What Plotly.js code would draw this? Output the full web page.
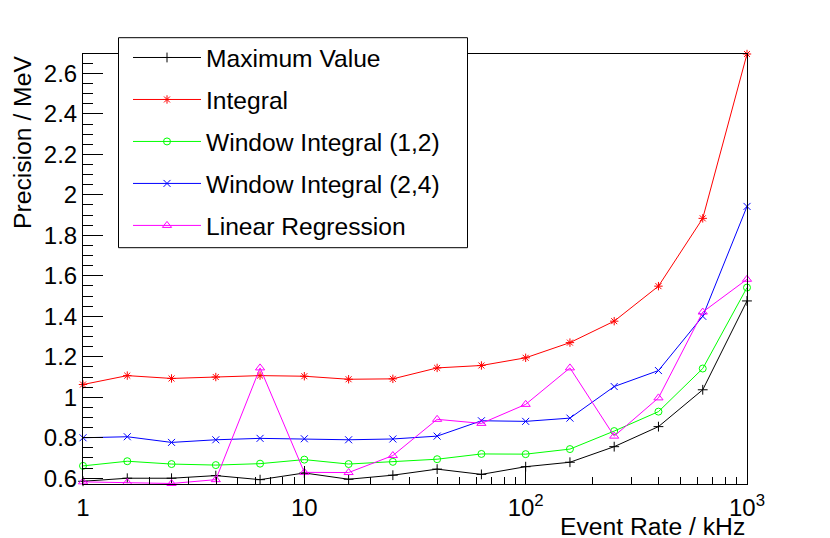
<!DOCTYPE html>
<html>
<head>
<meta charset="utf-8">
<script src="https://cdn.plot.ly/plotly-3.0.1.min.js"></script>
<style>html,body{margin:0;padding:0;background:#fff;}#chart{width:830px;height:538px;}</style>
</head>
<body>
<div id="chart"></div>
<script>
var eventRate = [1, 1.585, 2.512, 3.981, 6.310, 10, 15.85, 25.12, 39.81, 63.10, 100, 158.5, 251.2, 398.1, 631.0, 1000];
var maximumValue = [0.585, 0.600, 0.600, 0.613, 0.593, 0.626, 0.595, 0.615, 0.645, 0.619, 0.657, 0.679, 0.756, 0.855, 1.037, 1.476];
var integral = [1.063, 1.107, 1.093, 1.100, 1.107, 1.104, 1.089, 1.091, 1.145, 1.157, 1.195, 1.270, 1.376, 1.549, 1.884, 2.696];
var windowIntegral12 = [0.661, 0.684, 0.670, 0.665, 0.672, 0.692, 0.670, 0.681, 0.694, 0.720, 0.719, 0.744, 0.833, 0.929, 1.142, 1.542];
var windowIntegral24 = [0.800, 0.805, 0.777, 0.790, 0.797, 0.795, 0.790, 0.794, 0.808, 0.884, 0.881, 0.897, 1.053, 1.132, 1.400, 1.943];
var linearRegression = [0.582, 0.579, 0.574, 0.593, 1.145, 0.629, 0.628, 0.712, 0.891, 0.871, 0.965, 1.145, 0.808, 0.997, 1.421, 1.583];
var seriesNames = ["Maximum Value", "Integral", "Window Integral (1,2)", "Window Integral (2,4)", "Linear Regression"];
var xTickVals = [1, 10, 100, 1000];
var xTickText = ["1", "10", "10<sup>2</sup>", "10<sup>3</sup>"];

var styles = [
  {color: "#000000", symbol: "cross-thin-open", size: 7},
  {color: "#ff0000", symbol: "asterisk-open", size: 7},
  {color: "#00ff00", symbol: "circle-open", size: 7},
  {color: "#0000ff", symbol: "x-thin-open", size: 7},
  {color: "#ff00ff", symbol: "triangle-up-open", size: 8}
];
var allY = [maximumValue, integral, windowIntegral12, windowIntegral24, linearRegression];

var traces = allY.map(function(ys, i) {
  return {
    x: eventRate, y: ys, name: seriesNames[i], type: "scatter", mode: "lines+markers",
    legendgroup: "g" + i, cliponaxis: false,
    line: {color: styles[i].color, width: 1},
    marker: {color: styles[i].color, symbol: styles[i].symbol, size: styles[i].size, line: {color: styles[i].color, width: 1}}
  };
});

var minorX = [];
for (var k = 0; k < 3; k++) { for (var d = 2; d <= 9; d++) { minorX.push(d * Math.pow(10, k)); } }

var font = "Liberation Sans, Arial, Helvetica, sans-serif";
var W = 664, H = 430;
function px(xp) { return (xp - 83) / W; }
function py(yp) { return (484 - yp) / H; }

var layout = {
  width: 830, height: 538,
  margin: {l: 83, r: 83, t: 54, b: 54, pad: 0},
  paper_bgcolor: "#ffffff", plot_bgcolor: "#ffffff",
  font: {family: font, size: 24, color: "#000"},
  showlegend: true,
  legend: {
    x: px(128), y: py(35), xanchor: "left", yanchor: "top",
    bgcolor: "rgba(0,0,0,0)", borderwidth: 0,
    font: {family: font, size: 24.6, color: "#000"},
    tracegroupgap: 7, itemwidth: 68
  },
  xaxis: {
    type: "log", range: [0, 3], showgrid: false, zeroline: false,
    showline: true, linecolor: "#000", linewidth: 1, mirror: true,
    ticks: "inside", ticklen: 18, tickcolor: "#000", tickwidth: 1,
    tickmode: "array", tickvals: xTickVals, ticktext: xTickText,
    ticklabelstandoff: 2,
    tickfont: {family: font, size: 24, color: "#000"},
    minor: {tickmode: "array", tickvals: minorX, ticks: "inside", ticklen: 7, tickcolor: "#000", tickwidth: 1, showgrid: false}
  },
  yaxis: {
    range: [0.5715, 2.696], showgrid: false, zeroline: false,
    showline: true, linecolor: "#000", linewidth: 1, mirror: true,
    ticks: "inside", ticklen: 20, tickcolor: "#000", tickwidth: 1,
    tick0: 0, dtick: 0.2,
    tickfont: {family: font, size: 24, color: "#000"},
    minor: {dtick: 0.05, ticks: "inside", ticklen: 10, tickcolor: "#000", tickwidth: 1, showgrid: false}
  },
  shapes: [{
    type: "rect", xref: "paper", yref: "paper",
    x0: px(118.5), x1: px(467.5), y0: py(247.7), y1: py(37.7),
    line: {color: "#000", width: 1}, fillcolor: "rgba(255,255,255,1)", layer: "above"
  }],
  annotations: [
    {text: "Precision / MeV", textangle: -90, xref: "paper", yref: "paper",
     x: px(22.5), y: py(54), xanchor: "center", yanchor: "top", showarrow: false,
     font: {family: font, size: 24.7, color: "#000"}},
    {text: "Event Rate / kHz", xref: "paper", yref: "paper",
     x: 1, y: py(526.5), xanchor: "right", yanchor: "middle", showarrow: false,
     font: {family: font, size: 24.7, color: "#000"}}
  ]
};

Plotly.newPlot("chart", traces, layout, {displayModeBar: false, staticPlot: true});
</script>
</body>
</html>
